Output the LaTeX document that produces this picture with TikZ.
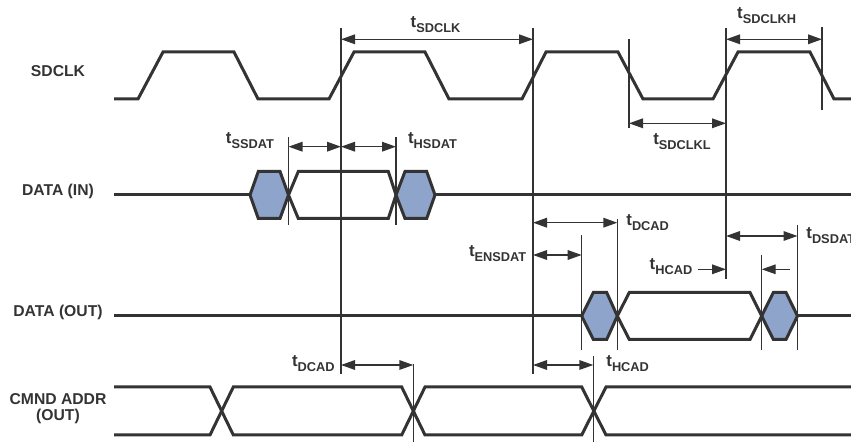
\documentclass[tikz,border=0pt]{standalone}
\usepackage{fontspec}
\setmainfont{Liberation Sans}
\usetikzlibrary{arrows.meta}

\definecolor{wave}{HTML}{333333}
\definecolor{hexfill}{HTML}{8FA4CB}
\newcommand{\tlbl}[1]{{\fontsize{8.4}{9}\selectfont t}\raisebox{-2.5pt}{\fontsize{6.4}{7}\selectfont #1}}

\tikzset{
  sig/.style={draw=wave, line width=1.5pt, line join=miter},
  guide/.style={draw=wave, line width=0.6pt},
  dim/.style={draw=wave, line width=0.7pt, <->},
  lbl/.style={inner sep=0pt, text=wave, font=\bfseries},
  signame/.style={inner sep=0pt, text=wave, font=\fontsize{7.85}{7.85}\selectfont\bfseries, align=center}
}

\begin{document}
\begin{tikzpicture}[x=0.5pt, y=-0.5pt, >={Triangle[length=7pt,width=4.8pt]}]
  \useasboundingbox (0,0) rectangle (851,442);

  % signal names
  \node[signame, anchor=base] (sdclk) at (58,76.5) {SDCLK};
  \node[signame, anchor=base] (datain) at (58,196) {DATA (IN)};
  \node[signame, anchor=base] (dataout) at (58,316.5) {DATA (OUT)};
  \node[signame, anchor=north] (cmnd) at (58,393.3) {CMND ADDR\\(OUT)};

  % clock
  \draw[sig] (114,99) -- (138,99) -- (163,52) -- (234,52) -- (258,99) -- (329,99) -- (354,52) -- (425,52) -- (449,99) -- (522,99) -- (546,52) -- (618,52) -- (643,99) -- (713,99) -- (738,52) -- (810,52) -- (834,99) -- (851,99);

  % data in / data out
  \draw[sig] (114,195) -- (250,195);
  \draw[sig] (435,195) -- (851,195);
  \draw[sig] (114,316) -- (581.7,316);
  \draw[sig] (797.5,316) -- (851,316);
  \foreach \a/\b/\c/\d/\m in {288.5/298.3/388.3/396/195, 617.3/629.3/750/761.7/316}
    \draw[sig] (\a,\m) -- (\b,\m-23.5) -- (\c,\m-23.5) -- (\d,\m) -- (\c,\m+23.5) -- (\b,\m+23.5) -- cycle;
  \foreach \a/\b/\c/\d/\m in {250/258.3/280/288.5/195, 396/405/426.7/435/195, 581.7/593.3/606.7/617.3/316, 761.7/773.3/786/797.5/316}
    \filldraw[sig, fill=hexfill] (\a,\m) -- (\b,\m-23.5) -- (\c,\m-23.5) -- (\d,\m) -- (\c,\m+23.5) -- (\b,\m+23.5) -- cycle;

  % command / address
  \draw[sig] (114,387) -- (210,387) -- (233.3,435) -- (401.7,435) -- (425,387) -- (581.7,387) -- (606,435) -- (851,435);
  \draw[sig] (114,435) -- (210,435) -- (233.3,387) -- (401.7,387) -- (425,435) -- (581.7,435) -- (606,387) -- (851,387);

  % guide lines
  \foreach \x/\ya/\yb in {341/28/374, 533/28/374, 629/39/128, 726/28/279, 822/27/110, 288.5/137/225, 396/137/225, 581.7/235/350, 617.3/219/350, 761.7/255/350, 797.5/225/350, 413.3/364/442, 593.3/356/442}
    \draw[guide] (\x,\ya) -- (\x,\yb);

  % arrow ends
  \foreach \n/\x/\y in {clkL/341/39.3, clkR/533/39.3, clkhL/726/39.3, clkhR/822/39.3, clklL/629/123.3, clklR/726/123.3, ssL/288.5/146.7, ssR/341/146.7, hsR/396/146.7, dcL/533/222.7, dcR/617.3/222.7, enL/533/255, enR/581.7/255, dsL/726/236, dsR/797.5/236, hcA/698/269.3, hcB/726/269.3, dsS/790/269.3, dsT/761.7/269.3, cadL/341/365, cadR/413.3/365, hcadL/533/365, hcadR/593.3/365}
    \coordinate (\n) at (\x,\y);

  \draw[dim] (clkL) -- (clkR);
  \draw[dim] (clkhL) -- (clkhR);
  \draw[dim] (clklL) -- (clklR);
  \draw[dim] (ssL) -- (ssR);
  \draw[dim] (ssR) -- (hsR);
  \draw[dim] (dcL) -- (dcR);
  \draw[dim] (enL) -- (enR);
  \draw[dim] (dsL) -- (dsR);
  \draw[dim, -{>}] (hcA) -- (hcB);
  \draw[dim, -{>}] (dsS) -- (dsT);
  \draw[dim] (cadL) -- (cadR);
  \draw[dim] (hcadL) -- (hcadR);

  % timing labels
  \node[lbl, anchor=base] (tclk) at (435.5,27.3) {\tlbl{SDCLK}};
  \node[lbl, anchor=base] (tclkh) at (766.7,18.5) {\tlbl{SDCLKH}};
  \node[lbl, anchor=base] (tclkl) at (682,144.5) {\tlbl{SDCLKL}};
  \node[lbl, anchor=base] (tssdat) at (250,143.5) {\tlbl{SSDAT}};
  \node[lbl, anchor=base] (thsdat) at (432.5,143.5) {\tlbl{HSDAT}};
  \node[lbl, anchor=base west] (tdcadA) at (626,225.7) {\tlbl{DCAD}};
  \node[lbl, anchor=base east] (tensdat) at (526.7,256.7) {\tlbl{ENSDAT}};
  \node[lbl, anchor=base east] (thcadA) at (692.7,269.3) {\tlbl{HCAD}};
  \node[lbl, anchor=base west] (tdsdat) at (806,238.5) {\tlbl{DSDAT}};
  \node[lbl, anchor=base east] (tdcadB) at (335,366.7) {\tlbl{DCAD}};
  \node[lbl, anchor=base west] (thcadB) at (606,366.5) {\tlbl{HCAD}};
\end{tikzpicture}
\end{document}
